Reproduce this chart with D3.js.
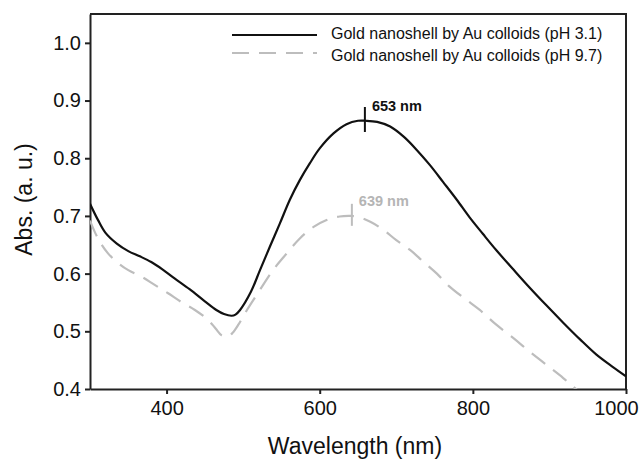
<!DOCTYPE html>
<html lang="en">
<head>
    <meta charset="UTF-8">
    <title>Gold nanoshell absorbance</title>
    <script src="https://d3js.org/d3.v7.min.js"></script>
    <style>
        body {
            margin: 0;
            background: #ffffff;
        }

        svg {
            font-family: "Liberation Sans", Arial, sans-serif;
        }

        .axis text {
            font-size: 20px;
            fill: #111;
        }

        .axis path, .axis line {
            stroke: #222;
            stroke-width: 2px;
        }

        .label {
            font-size: 23px;
            fill: #111;
        }

        .legend {
            font-size: 16px;
            fill: #111;
        }

        .peak {
            font-size: 14.5px;
            font-weight: bold;
        }
    </style>
</head>

<body>
<div id="fig"></div>
<script>
    // spectrum, pH 3.1 (black, solid)
    let wl_ph31 = [300, 310, 320, 335, 350, 365, 380, 395, 410, 430, 450, 465, 475, 485, 490, 496,
        510, 522, 535, 548, 561, 574, 587, 600, 618, 635, 650, 660, 675, 692, 710, 727, 744,
        761, 779, 796, 813, 831, 853, 874, 896, 918, 940, 961, 983, 1000]
    let abs_ph31 = [0.721, 0.694, 0.671, 0.652, 0.639, 0.630, 0.620, 0.607, 0.592, 0.573, 0.552, 0.537, 0.530, 0.527, 0.529, 0.537,
        0.568, 0.606, 0.647, 0.687, 0.728, 0.762, 0.791, 0.817, 0.843, 0.859, 0.865, 0.865, 0.863, 0.855, 0.837, 0.814, 0.788,
        0.759, 0.728, 0.697, 0.669, 0.640, 0.607, 0.576, 0.545, 0.515, 0.486, 0.460, 0.438, 0.422]

    // spectrum, pH 9.7 (grey, dashed)
    let wl_ph97 = [300, 310, 323, 337, 350, 367, 385, 402, 419, 437, 454, 464, 472, 480, 486, 494,
        505, 522, 539, 557, 574, 592, 609, 626, 640, 648, 666, 683, 700, 718, 735, 753, 770,
        790, 809, 831, 853, 874, 896, 918, 931, 950]
    let abs_ph97 = [0.692, 0.662, 0.636, 0.618, 0.606, 0.595, 0.580, 0.566, 0.551, 0.537, 0.520, 0.505, 0.493, 0.491, 0.497, 0.512,
        0.537, 0.572, 0.606, 0.635, 0.661, 0.681, 0.693, 0.699, 0.700, 0.699, 0.690, 0.676, 0.658, 0.641, 0.621, 0.600, 0.577,
        0.556, 0.537, 0.511, 0.488, 0.465, 0.442, 0.419, 0.404, 0.384]

    let series_names = ["Gold nanoshell by Au colloids (pH 3.1)", "Gold nanoshell by Au colloids (pH 9.7)"]
    let peak_labels = ["653 nm", "639 nm"]
    let peak_wl = [659, 642]
    let peak_abs = [0.865, 0.700]

    let x_ticks = [400, 600, 800, 1000]
    let y_ticks = [0.4, 0.5, 0.6, 0.7, 0.8, 0.9, 1.0]

    let W = 643, H = 459
    let margin = {left: 90, top: 14, right: 17, bottom: 70}

    let svg = d3.select("#fig").append("svg")
        .attr("width", W)
        .attr("height", H)

    let xScale = d3.scaleLinear().domain([300, 1000]).range([margin.left, W - margin.right])
    let yScale = d3.scaleLinear().domain([0.4, 1.05]).range([H - margin.bottom, margin.top])

    svg.append("clipPath").attr("id", "plotclip")
        .append("rect")
        .attr("x", margin.left).attr("y", margin.top)
        .attr("width", W - margin.left - margin.right)
        .attr("height", H - margin.top - margin.bottom)

    // frame top + right
    svg.append("path")
        .attr("d", `M${margin.left},${margin.top}H${W - margin.right}V${H - margin.bottom}`)
        .attr("fill", "none")
        .attr("stroke", "#222")
        .attr("stroke-width", 2)

    let x_axis = d3.axisBottom(xScale).tickValues(x_ticks).tickSize(5).tickSizeOuter(0).tickPadding(7)
        .tickFormat(d3.format("d"))
    let y_axis = d3.axisLeft(yScale).tickValues(y_ticks).tickSize(5).tickSizeOuter(0).tickPadding(4)
        .tickFormat(d3.format(".1f"))

    let gx = svg.append("g").attr("class", "axis")
        .attr("transform", `translate(0,${H - margin.bottom})`)
        .call(x_axis)

    // last label sits a bit left so it stays on the page
    gx.selectAll(".tick text")
        .filter(function (d) { return d === 1000 })
        .attr("dx", -10)

    svg.append("g").attr("class", "axis")
        .attr("transform", `translate(${margin.left},0)`)
        .call(y_axis)

    let line = d3.line()
        .x(function (d) { return xScale(d[0]) })
        .y(function (d) { return yScale(d[1]) })
        .curve(d3.curveCatmullRom.alpha(0.5))

    let styles = [
        {color: "#111", dash: null},
        {color: "#bdbdbd", dash: "17,10"}
    ]

    let series = [
        d3.zip(wl_ph31, abs_ph31),
        d3.zip(wl_ph97, abs_ph97)
    ]

    let plot = svg.append("g").attr("clip-path", "url(#plotclip)")

    series.forEach(function (pts, i) {
        plot.append("path")
            .datum(pts)
            .attr("d", line)
            .attr("fill", "none")
            .attr("stroke", styles[i].color)
            .attr("stroke-width", 2.2)
            .attr("stroke-dasharray", styles[i].dash)
    })

    // peak markers
    let peak_len = [25, 22]
    peak_labels.forEach(function (lab, i) {
        let px = xScale(peak_wl[i])
        let py = yScale(peak_abs[i])
        svg.append("line")
            .attr("x1", px).attr("x2", px)
            .attr("y1", py - peak_len[i] * 0.55).attr("y2", py + peak_len[i] * 0.45)
            .attr("stroke", styles[i].color)
            .attr("stroke-width", 2)
        svg.append("text")
            .attr("class", "peak")
            .attr("x", px + 7)
            .attr("y", py - 10)
            .attr("fill", i === 0 ? "#111" : "#b5b5b5")
            .text(lab)
    })

    // legend
    let legend_y = [35, 53]
    let text_y = [39, 61]
    series_names.forEach(function (name, i) {
        svg.append("line")
            .attr("x1", 232).attr("x2", 317)
            .attr("y1", legend_y[i]).attr("y2", legend_y[i])
            .attr("stroke", styles[i].color)
            .attr("stroke-width", 2.2)
            .attr("stroke-dasharray", styles[i].dash)
        svg.append("text")
            .attr("class", "legend")
            .attr("x", 331)
            .attr("y", text_y[i])
            .text(name)
    })

    // axis titles
    svg.append("text")
        .attr("class", "label")
        .attr("x", (margin.left + W - margin.right) / 2 - 3)
        .attr("y", 454)
        .attr("text-anchor", "middle")
        .text("Wavelength (nm)")

    svg.append("text")
        .attr("class", "label")
        .attr("transform", `translate(32,${(margin.top + H - margin.bottom) / 2 - 2}) rotate(-90)`)
        .attr("text-anchor", "middle")
        .text("Abs. (a. u.)")
</script>
</body>
</html>
